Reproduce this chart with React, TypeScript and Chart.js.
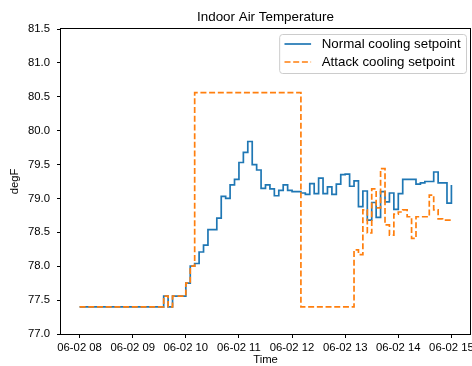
import React, { useEffect, useRef } from "react";
import { Chart, registerables } from "chart.js";

Chart.register(...registerables);

// Time grid: readings every 5 minutes from 08:00 to 15:00 on 06-02
const START_HOUR = 8;
const STEP_MINUTES = 5;

const normalCoolingSetpoint: number[] = [
  77.4, 77.4, 77.4, 77.4, 77.4, 77.4, 77.4, 77.4, 77.4, 77.4,
  77.4, 77.4, 77.4, 77.4, 77.4, 77.4, 77.4, 77.4, 77.4, 77.56,
  77.4, 77.56, 77.56, 77.56, 77.75, 78.0, 78.04, 78.21, 78.31, 78.54,
  78.54, 78.71, 79.03, 79.0, 79.2, 79.28, 79.53, 79.68, 79.84, 79.5,
  79.42, 79.15, 79.2, 79.14, 79.04, 79.12, 79.2, 79.12, 79.1, 79.1,
  79.08, 79.06, 79.22, 79.07, 79.3, 79.07, 79.17, 79.06, 79.21, 79.35,
  79.36, 79.18, 79.26, 78.88, 79.11, 78.68, 78.94, 78.72, 79.1, 78.95,
  79.08, 78.84, 79.07, 79.28, 79.28, 79.28, 79.21, 79.23, 79.25, 79.25,
  79.39, 79.23, 79.23, 78.93, 79.2,
];

const attackCoolingSetpoint: number[] = [
  77.4, 77.4, 77.4, 77.4, 77.4, 77.4, 77.4, 77.4, 77.4, 77.4,
  77.4, 77.4, 77.4, 77.4, 77.4, 77.4, 77.4, 77.4, 77.4, 77.56,
  77.4, 77.56, 77.56, 77.56, 77.75, 78.0, 80.56, 80.56, 80.56, 80.56,
  80.56, 80.56, 80.56, 80.56, 80.56, 80.56, 80.56, 80.56, 80.56, 80.56,
  80.56, 80.56, 80.56, 80.56, 80.56, 80.56, 80.56, 80.56, 80.56, 80.56,
  77.4, 77.4, 77.4, 77.4, 77.4, 77.4, 77.4, 77.4, 77.4, 77.4,
  77.4, 77.4, 78.24, 78.17, 78.83, 78.49, 79.14, 78.86, 79.44, 78.61,
  78.46, 78.77, 78.8, 78.83, 78.73, 78.41, 78.73, 78.73, 78.73, 79.05,
  78.83, 78.7, 78.68, 78.68, 78.7,
];

const tickHours: number[] = [8, 9, 10, 11, 12, 13, 14, 15];
const tickLabels: string[] = [
  "06-02 08", "06-02 09", "06-02 10", "06-02 11",
  "06-02 12", "06-02 13", "06-02 14", "06-02 15",
];
const yTickValues: number[] = [77.0, 77.5, 78.0, 78.5, 79.0, 79.5, 80.0, 80.5, 81.0, 81.5];

const seriesLabels: string[] = ["Normal cooling setpoint", "Attack cooling setpoint"];
const seriesColors: string[] = ["#1f77b4", "#ff7f0e"];

const FONT = "'Liberation Sans', Arial, Helvetica, sans-serif";
const TICK_SIZE = 11.3;

export default function App() {
  const ref = useRef<HTMLCanvasElement | null>(null);

  useEffect(() => {
    document.body.style.margin = "0";
    const canvas = ref.current;
    if (!canvas) return;

    const toPoints = (arr: number[]) =>
      arr.map((v, i) => ({ x: START_HOUR + (i * STEP_MINUTES) / 60, y: v }));

    const decorPlugin = {
      id: "decor",
      afterDraw(chart: any) {
        const { ctx, chartArea: a } = chart;
        ctx.save();
        // frame
        ctx.strokeStyle = "#000";
        ctx.lineWidth = 1;
        ctx.strokeRect(a.left - 0.5, a.top - 0.5, a.right - a.left + 1, a.bottom - a.top + 1);

        ctx.fillStyle = "#000";
        ctx.textAlign = "center";
        ctx.textBaseline = "middle";
        // title
        ctx.font = `13.4px ${FONT}`;
        ctx.fillText("Indoor Air Temperature", (a.left + a.right) / 2, 17);
        // x title
        ctx.font = `${TICK_SIZE}px ${FONT}`;
        ctx.fillText("Time", (a.left + a.right) / 2, 360);
        // y title
        ctx.save();
        ctx.translate(15, (a.top + a.bottom) / 2);
        ctx.rotate(-Math.PI / 2);
        ctx.fillText("degF", 0, 0);
        ctx.restore();

        // legend
        const fs = 13.3;
        ctx.font = `${fs}px ${FONT}`;
        const tw = Math.max(...seriesLabels.map((s) => ctx.measureText(s).width));
        const boxRight = 466;
        const boxTop = 34;
        const boxBottom = 73;
        const pad = 0.4 * fs;
        const handleLen = 2 * fs;
        const textPad = 0.8 * fs;
        const boxLeft = boxRight - (pad + handleLen + textPad + tw + pad);
        ctx.beginPath();
        (ctx as any).roundRect(boxLeft + 0.5, boxTop + 0.5, boxRight - boxLeft, boxBottom - boxTop, 3);
        ctx.fillStyle = "rgba(255,255,255,0.8)";
        ctx.fill();
        ctx.strokeStyle = "#cccccc";
        ctx.lineWidth = 1;
        ctx.stroke();

        const rows = [44, 62];
        rows.forEach((ry, k) => {
          const hx = boxLeft + pad;
          ctx.beginPath();
          ctx.strokeStyle = seriesColors[k];
          ctx.lineWidth = 1.7;
          ctx.setLineDash(k === 1 ? [6, 2.7] : []);
          ctx.moveTo(hx, ry);
          ctx.lineTo(hx + handleLen, ry);
          ctx.stroke();
          ctx.setLineDash([]);
          ctx.fillStyle = "#000";
          ctx.textAlign = "left";
          ctx.textBaseline = "middle";
          ctx.fillText(seriesLabels[k], hx + handleLen + textPad, ry);
        });
        ctx.restore();
      },
    };

    const chart = new Chart(canvas, {
      type: "line",
      data: {
        datasets: [
          {
            label: seriesLabels[0],
            data: toPoints(normalCoolingSetpoint),
            borderColor: seriesColors[0],
            borderWidth: 1.7,
            stepped: "before",
            pointRadius: 0,
            fill: false,
            order: 1,
          },
          {
            label: seriesLabels[1],
            data: toPoints(attackCoolingSetpoint),
            borderColor: seriesColors[1],
            borderWidth: 1.7,
            borderDash: [6, 2.7],
            stepped: "before",
            pointRadius: 0,
            fill: false,
            order: 0,
          },
        ],
      },
      options: {
        animation: false,
        responsive: false,
        devicePixelRatio: 1,
        layout: { padding: { top: 29, right: 2, bottom: 0, left: 0 } },
        plugins: {
          legend: { display: false },
          title: { display: false },
          tooltip: { enabled: false },
        },
        scales: {
          x: {
            type: "linear",
            min: 7.65,
            max: 15.35,
            border: { display: false },
            grid: {
              drawOnChartArea: false,
              drawTicks: true,
              tickLength: 4,
              tickColor: "#000",
              lineWidth: 1,
            },
            ticks: {
              color: "#000",
              font: { family: FONT, size: TICK_SIZE },
              padding: 3,
              maxRotation: 0,
              autoSkip: false,
              callback: (v: any) => {
                const idx = tickHours.indexOf(Number(v));
                return idx >= 0 ? tickLabels[idx] : "";
              },
            },
            afterBuildTicks: (scale: any) => {
              scale.ticks = tickHours.map((h) => ({ value: h }));
            },
            afterFit: (scale: any) => {
              scale.height = 32;
              scale.paddingLeft = 0;
              scale.paddingRight = 0;
            },
          },
          y: {
            type: "linear",
            min: 77,
            max: 81.5,
            border: { display: false },
            grid: {
              drawOnChartArea: false,
              drawTicks: true,
              tickLength: 4,
              tickColor: "#000",
              lineWidth: 1,
            },
            ticks: {
              color: "#000",
              font: { family: FONT, size: TICK_SIZE },
              padding: 7,
              callback: (v: any) => Number(v).toFixed(1),
            },
            afterBuildTicks: (scale: any) => {
              scale.ticks = yTickValues.map((v) => ({ value: v }));
            },
            afterFit: (scale: any) => {
              scale.width = 61;
            },
          },
        },
      },
      plugins: [decorPlugin],
    });

    return () => chart.destroy();
  }, []);

  return <canvas ref={ref} width={472} height={366} style={{ display: "block" }} />;
}
